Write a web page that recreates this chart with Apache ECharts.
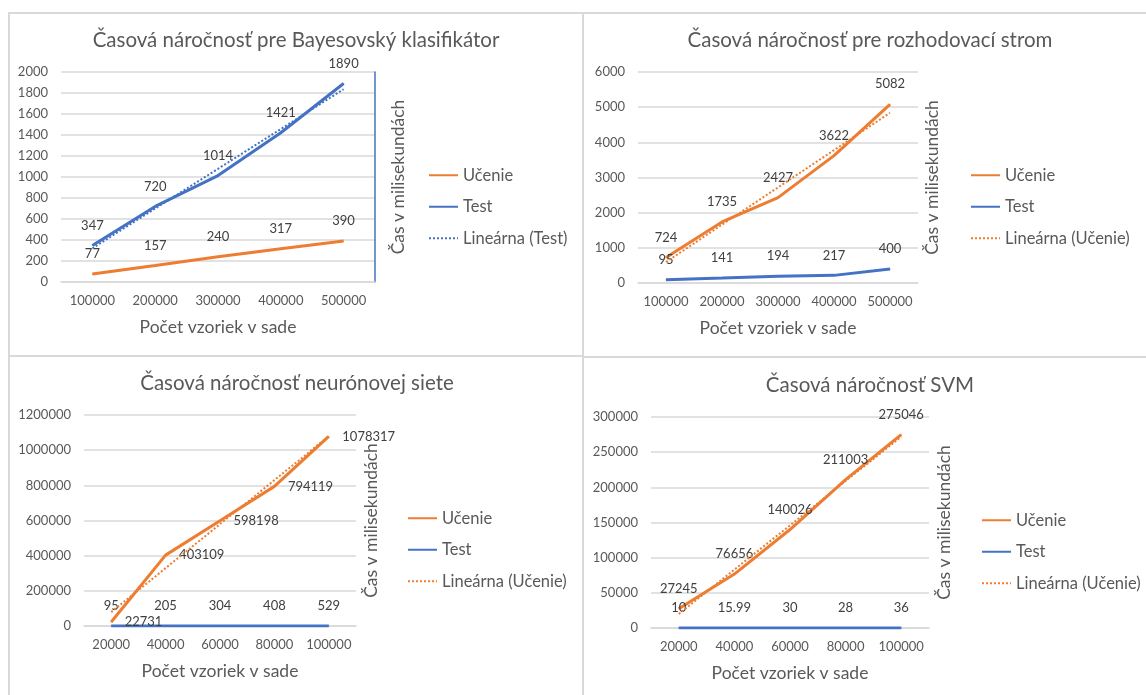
<!DOCTYPE html>
<html>
<head>
<meta charset="utf-8">
<script src="https://cdn.jsdelivr.net/npm/echarts/dist/echarts.min.js"></script>
<style>
  html, body { margin: 0; padding: 0; background: #ffffff; }
  body { position: relative; width: 1146px; height: 695px; overflow: hidden; }
  .panel { position: absolute; }
  .rule { position: absolute; background: #D9D9D9; z-index: 5; }
</style>
</head>
<body>
<div id="p1" class="panel" style="left:0;top:0;width:583px;height:356px"></div>
<div id="p2" class="panel" style="left:583px;top:0;width:563px;height:357px"></div>
<div id="p3" class="panel" style="left:0;top:356px;width:583px;height:339px"></div>
<div id="p4" class="panel" style="left:583px;top:357px;width:563px;height:338px"></div>

<!-- frame lines between the four charts -->
<div class="rule" style="left:8px;top:12px;width:2px;height:683px"></div>
<div class="rule" style="left:8px;top:12px;width:1138px;height:2px"></div>
<div class="rule" style="left:582px;top:12px;width:2px;height:683px"></div>
<div class="rule" style="left:8px;top:355px;width:575px;height:2px"></div>
<div class="rule" style="left:583px;top:356px;width:563px;height:2px"></div>

<script>
// ---- data ----
const bayesSizes = ['100000', '200000', '300000', '400000', '500000'];
const bayesTrain = [77, 157, 240, 317, 390];
const bayesTest = [347, 720, 1014, 1421, 1890];
const bayesTestTrend = [321, 700, 1078, 1457, 1836];
const bayesAxis = [0, 2000, 200];

const treeSizes = ['100000', '200000', '300000', '400000', '500000'];
const treeTrain = [724, 1735, 2427, 3622, 5082];
const treeTest = [95, 141, 194, 217, 400];
const treeTrainTrend = [597, 1658, 2718, 3778, 4839];
const treeAxis = [0, 6000, 1000];

const nnSizes = ['20000', '40000', '60000', '80000', '100000'];
const nnTrain = [22731, 403109, 598198, 794119, 1078317];
const nnTest = [95, 205, 304, 408, 529];
const nnTrainTrend = [78858, 329077, 579295, 829513, 1079731];
const nnAxis = [0, 1200000, 200000];

const svmSizes = ['20000', '40000', '60000', '80000', '100000'];
const svmTrain = [27245, 76656, 140026, 211003, 275046];
const svmTest = [10, 15.99, 30, 28, 36];
const svmTrainTrend = [20005, 83000, 145995, 208990, 271985];
const svmAxis = [0, 300000, 50000];

// ---- styling ----
const ORANGE = '#ED7D31';
const BLUE = '#4472C4';
const TEXT = '#595959';
const LABEL = '#404040';
const GRID = '#D9D9D9';
const FONT = 'Lato, "Open Sans", "DejaVu Sans", sans-serif';
const TITLE_SIZE = 20.5;
const NAME_SIZE = 17.5;
const LEGEND_SIZE = 16.5;
const TICK_SIZE = 13;
const LABEL_SIZE = 13;

function lineSeries(name, values, color, labelPos) {
  return {
    name: name,
    type: 'line',
    data: values,
    symbol: 'circle',
    symbolSize: 1,
    showAllSymbol: true,
    itemStyle: { color: color },
    lineStyle: { color: color, width: 3 },
    label: {
      show: true,
      position: labelPos,
      distance: 13,
      color: LABEL,
      fontSize: LABEL_SIZE,
      fontFamily: FONT,
      formatter: p => String(p.value)
    },
    z: 2
  };
}

function trendSeries(name, values, color) {
  return {
    name: name,
    type: 'line',
    data: values,
    symbol: 'none',
    itemStyle: { color: color },
    lineStyle: { color: color, width: 2, type: [2, 2] },
    z: 3
  };
}

function buildOption(c) {
  const [yMin, yMax, yStep] = c.axis;
  return {
    animation: false,
    backgroundColor: 'transparent',
    textStyle: { fontFamily: FONT },
    title: {
      text: c.title,
      left: c.titleX,
      top: c.titleTop,
      textAlign: 'center',
      padding: 0,
      textStyle: { fontSize: TITLE_SIZE, fontWeight: 'normal', color: TEXT, fontFamily: FONT }
    },
    grid: {
      left: c.grid[0], right: c.grid[1], top: c.grid[2], height: c.grid[3],
      containLabel: false, outerBoundsMode: 'none'
    },
    legend: {
      orient: 'vertical',
      left: c.legendX,
      top: c.legendTop,
      padding: 0,
      itemWidth: 29,
      itemHeight: 14,
      itemGap: 14.5,
      itemStyle: { opacity: 0 },
      textStyle: { fontSize: LEGEND_SIZE, color: TEXT, fontFamily: FONT },
      data: c.legend
    },
    xAxis: {
      type: 'category',
      data: c.categories,
      boundaryGap: true,
      axisTick: { show: false },
      axisLine: { lineStyle: { color: GRID, width: 1.5 } },
      axisLabel: { color: TEXT, fontSize: TICK_SIZE, margin: 12.5, fontFamily: FONT, interval: 0 },
      name: 'Počet vzoriek v sade',
      nameLocation: 'middle',
      nameGap: 36,
      nameTextStyle: { fontSize: NAME_SIZE, color: TEXT, fontFamily: FONT }
    },
    yAxis: [
      {
        type: 'value',
        min: yMin, max: yMax, interval: yStep,
        axisLine: { show: false },
        axisTick: { show: false },
        splitLine: { lineStyle: { color: GRID, width: 1.5 } },
        axisLabel: { color: TEXT, fontSize: TICK_SIZE, margin: 13, fontFamily: FONT, formatter: v => String(v) }
      },
      {
        type: 'value',
        position: 'right',
        min: yMin, max: yMax, interval: yStep,
        axisLine: { show: c.rightLine, onZero: false, lineStyle: { color: BLUE, width: 1.5 } },
        axisTick: { show: false },
        axisLabel: { show: false },
        splitLine: { show: false },
        name: 'Čas v milisekundách',
        nameLocation: 'middle',
        nameRotate: 90,
        nameGap: c.yNameGap,
        nameTextStyle: { fontSize: NAME_SIZE, color: TEXT, fontFamily: FONT }
      }
    ],
    series: c.series
  };
}

const panels = [
  {
    el: 'p1',
    title: 'Časová náročnosť pre Bayesovský klasifikátor',
    titleX: 296, titleTop: 29.75,
    grid: [61, 208, 72, 210],
    legendX: 428, legendTop: 166.75,
    yNameGap: 14, rightLine: true,
    axis: bayesAxis,
    categories: bayesSizes,
    legend: ['Učenie', 'Test', 'Lineárna (Test)'],
    series: [
      lineSeries('Učenie', bayesTrain, ORANGE, 'top'),
      lineSeries('Test', bayesTest, BLUE, 'top'),
      trendSeries('Lineárna (Test)', bayesTestTrend, BLUE)
    ]
  },
  {
    el: 'p2',
    title: 'Časová náročnosť pre rozhodovací strom',
    titleX: 287, titleTop: 29.75,
    grid: [55, 228, 72, 211],
    legendX: 387, legendTop: 166.75,
    yNameGap: 5, rightLine: false,
    axis: treeAxis,
    categories: treeSizes,
    legend: ['Učenie', 'Test', 'Lineárna (Učenie)'],
    series: [
      lineSeries('Učenie', treeTrain, ORANGE, 'top'),
      lineSeries('Test', treeTest, BLUE, 'top'),
      trendSeries('Lineárna (Učenie)', treeTrainTrend, ORANGE)
    ]
  },
  {
    el: 'p3',
    title: 'Časová náročnosť neurónovej siete',
    titleX: 297, titleTop: 16.75,
    grid: [84, 227, 59, 211],
    legendX: 407, legendTop: 153.75,
    yNameGap: 6.5, rightLine: false,
    axis: nnAxis,
    categories: nnSizes,
    legend: ['Učenie', 'Test', 'Lineárna (Učenie)'],
    series: [
      lineSeries('Učenie', nnTrain, ORANGE, 'right'),
      lineSeries('Test', nnTest, BLUE, 'top'),
      trendSeries('Lineárna (Učenie)', nnTrainTrend, ORANGE)
    ]
  },
  {
    el: 'p4',
    title: 'Časová náročnosť SVM',
    titleX: 287, titleTop: 17.75,
    grid: [68, 217, 60, 211],
    legendX: 398, legendTop: 154.75,
    yNameGap: 6, rightLine: false,
    axis: svmAxis,
    categories: svmSizes,
    legend: ['Učenie', 'Test', 'Lineárna (Učenie)'],
    series: [
      lineSeries('Učenie', svmTrain, ORANGE, 'top'),
      lineSeries('Test', svmTest, BLUE, 'top'),
      trendSeries('Lineárna (Učenie)', svmTrainTrend, ORANGE)
    ]
  }
];

panels.forEach(c => {
  const chart = echarts.init(document.getElementById(c.el), null, { renderer: 'canvas' });
  chart.setOption(buildOption(c));
});
</script>
</body>
</html>
